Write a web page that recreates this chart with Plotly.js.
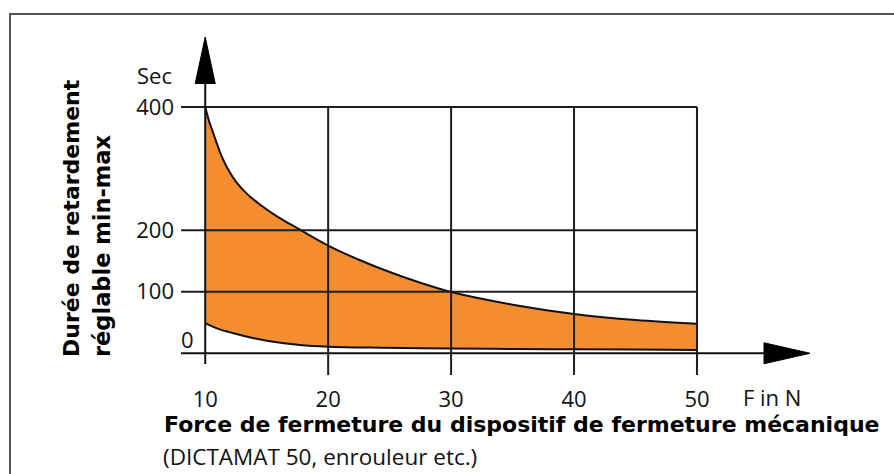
<!DOCTYPE html>
<html>
<head>
<meta charset="utf-8">
<script src="https://cdn.plot.ly/plotly-3.0.1.min.js"></script>
<style>html,body{margin:0;padding:0;background:#fff;}#chart{width:894px;height:474px;}</style>
</head>
<body>
<div id="chart"></div>
<script>
// ---- data ----
const forceMax = [10, 10.3, 10.7, 11.2, 11.8, 12.5, 13.4, 14.5, 15.8, 17.6, 20, 22.5, 25, 27.5, 30, 35, 40, 45, 50];
const delayMax = [400, 378, 355, 327, 301, 279, 259, 241, 223, 202, 175, 152, 132, 114.5, 99.5, 79, 64, 54, 48];
const forceMin = [10, 11, 12.3, 13.6, 15, 17.7, 20, 24.5, 30, 35, 40, 45, 50];
const delayMin = [49, 40, 32.5, 26, 20.5, 13.5, 10.7, 9, 7.8, 7, 6.5, 6, 5.5];
const xTickVals = [10, 20, 30, 40, 50];
const xTickText = ['10', '20', '30', '40', '50'];
const yTickVals = [100, 200, 400];
const yTickText = ['100', '200', '400'];
const yZeroLabel = '0';
const yUnit = 'Sec';
const xUnit = 'F in N';
const yTitle1 = 'Durée de retardement';
const yTitle2 = 'réglable min-max';
const xTitle = 'Force de fermeture du dispositif de fermeture mécanique';
const xSubtitle = '(DICTAMAT 50, enrouleur etc.)';

// ---- layout geometry ----
const W = 894, H = 474;
const M = {l: 181, r: 184, t: 95, b: 99};
const PW = W - M.l - M.r, PH = H - M.t - M.b;
const xRange = [8.03, 8.03 + PW / 12.294];
const yRange = [-35.3, -35.3 + PH / 0.6154];
const px = x => (x - M.l) / PW;          // pixel -> paper
const py = y => (H - M.b - y) / PH;
const dx = v => (v - xRange[0]) / (xRange[1] - xRange[0]); // data -> paper
const dy = v => (v - yRange[0]) / (yRange[1] - yRange[0]);

const FONT = 'Open Sans, Noto Sans, sans-serif';
const BOLD = 'DejaVu Sans, Open Sans, sans-serif';
const GRID = '#1e1e1e';

const traces = [
  {x: forceMin, y: delayMin, type: 'scatter', mode: 'lines', line: {color: '#111', width: 2, shape: 'spline', smoothing: 1}, hoverinfo: 'skip', showlegend: false},
  {x: forceMax, y: delayMax, type: 'scatter', mode: 'lines', fill: 'tonexty', fillcolor: '#f48d2f', line: {color: '#111', width: 2, shape: 'spline', smoothing: 1}, hoverinfo: 'skip', showlegend: false}
];

const shapes = [];
// vertical grid lines (above the fill); the first one is the y axis itself
xTickVals.slice(1).forEach(v => shapes.push({type: 'line', xref: 'x', yref: 'y', x0: v, x1: v, y0: 400, y1: yRange[0], line: {color: GRID, width: 2}, layer: 'above'}));
// horizontal grid lines
yTickVals.forEach(v => shapes.push({type: 'line', xref: 'x', yref: 'y', x0: xRange[0], x1: 50, y0: v, y1: v, line: {color: GRID, width: 2}, layer: 'above'}));
// x axis with arrow
const yAx = dy(0), xAx = dx(xTickVals[0]);
shapes.push({type: 'line', xref: 'paper', yref: 'paper', x0: 0, x1: px(766), y0: yAx, y1: yAx, line: {color: '#111', width: 2}, layer: 'above'});
shapes.push({type: 'path', xref: 'paper', yref: 'paper', path: `M ${px(764)} ${yAx + 10.5 / PH} L ${px(810)} ${yAx} L ${px(764)} ${yAx - 10.5 / PH} Z`, fillcolor: '#000', line: {color: '#000', width: 1}, layer: 'above'});
// y axis with arrow
shapes.push({type: 'line', xref: 'paper', yref: 'paper', x0: xAx, x1: xAx, y0: py(364), y1: py(81), line: {color: '#111', width: 2}, layer: 'above'});
shapes.push({type: 'path', xref: 'paper', yref: 'paper', path: `M ${xAx - 10 / PW} ${py(83.5)} L ${xAx} ${py(37)} L ${xAx + 10 / PW} ${py(83.5)} Z`, fillcolor: '#000', line: {color: '#000', width: 1}, layer: 'above'});
// outer frame (top and left)
shapes.push({type: 'line', xref: 'paper', yref: 'paper', x0: px(9), x1: px(900), y0: py(14), y1: py(14), line: {color: '#555', width: 2}});
shapes.push({type: 'line', xref: 'paper', yref: 'paper', x0: px(10), x1: px(10), y0: py(13), y1: py(480), line: {color: '#555', width: 2}});

const txt = {family: FONT, size: 22, color: '#111'};
const annotations = [
  {text: yUnit, xref: 'paper', yref: 'paper', x: px(174), y: py(75), xanchor: 'right', yanchor: 'middle', showarrow: false, font: txt},
  {text: yZeroLabel, xref: 'paper', yref: 'paper', x: px(187.5), y: py(339), xanchor: 'center', yanchor: 'middle', showarrow: false, font: txt},
  {text: xUnit, xref: 'paper', yref: 'paper', x: px(741), y: py(397), xanchor: 'left', yanchor: 'middle', showarrow: false, font: txt},
  {text: '<b>' + xTitle + '</b>', xref: 'paper', yref: 'paper', x: px(162), y: py(424), xanchor: 'left', yanchor: 'middle', showarrow: false, font: {family: BOLD, size: 22, color: '#000'}},
  {text: xSubtitle, xref: 'paper', yref: 'paper', x: px(161), y: py(456), xanchor: 'left', yanchor: 'middle', showarrow: false, font: {family: FONT, size: 22.5, color: '#111'}},
  {text: '<b>' + yTitle1 + '</b>', xref: 'paper', yref: 'paper', x: px(71), y: py(359), xanchor: 'center', yanchor: 'bottom', textangle: -90, showarrow: false, font: {family: BOLD, size: 22, color: '#000'}},
  {text: '<b>' + yTitle2 + '</b>', xref: 'paper', yref: 'paper', x: px(102), y: py(359), xanchor: 'center', yanchor: 'bottom', textangle: -90, showarrow: false, font: {family: BOLD, size: 22.5, color: '#000'}}
];

const layout = {
  width: W, height: H,
  margin: M,
  paper_bgcolor: '#fff', plot_bgcolor: 'rgba(0,0,0,0)',
  xaxis: {range: xRange, tickvals: xTickVals, ticktext: xTickText, showgrid: false, zeroline: false, showline: false, ticks: '', ticklabelstandoff: 9, tickfont: txt, fixedrange: true},
  yaxis: {range: yRange, tickvals: yTickVals, ticktext: yTickText, showgrid: false, zeroline: false, showline: false, ticks: '', ticklabelstandoff: 6, tickfont: txt, fixedrange: true},
  shapes: shapes,
  annotations: annotations,
  showlegend: false
};

Plotly.newPlot('chart', traces, layout, {displayModeBar: false, staticPlot: true});
</script>
</body>
</html>
